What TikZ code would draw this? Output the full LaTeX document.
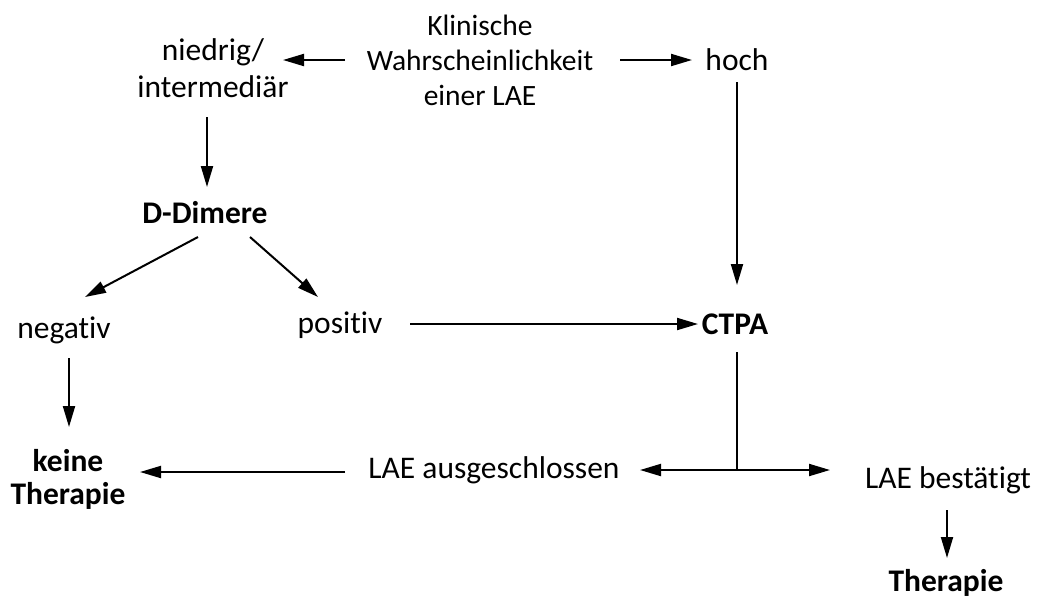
\documentclass[tikz,border=0pt]{standalone}
\usepackage{fontspec}
\setmainfont[Ligatures=NoCommon]{Carlito}
\usetikzlibrary{arrows.meta}
\begin{document}
\begin{tikzpicture}[x=1pt,y=-1pt,
  lbl/.style={font=\fontsize{31.5}{37}\selectfont, align=center, inner sep=0pt},
  small/.style={font=\fontsize{29.5}{35}\selectfont, align=center, inner sep=0pt},
  bl/.style={font=\fontsize{31.5}{33}\selectfont\bfseries, align=center, inner sep=0pt},
  arr/.style={line width=2pt, -{Triangle[length=21pt,width=12pt]}},
  ln/.style={line width=2pt}]
\useasboundingbox (0,0) rectangle (1038,598);
\node[small] (klin) at (480,60) {Klinische\\Wahrscheinlichkeit\\einer LAE};
\node[lbl] (nied) at (213,68) {niedrig/\\intermediär};
\node[lbl] (hoch) at (737,60) {hoch};
\node[bl] (dd) at (205,213) {D-Dimere};
\node[lbl] (neg) at (64,330) {negativ};
\node[lbl] (pos) at (340,325) {positiv};
\node[bl] (ctpa) at (735,324) {CTPA};
\node[bl] (kt) at (68,479) {keine\\Therapie};
\node[lbl] (aus) at (494,470) {LAE ausgeschlossen};
\node[lbl] (best) at (948,480) {LAE bestätigt};
\node[bl] (ther) at (946,583) {Therapie};
\coordinate (j) at (737,470);

\draw[arr] (345,60) -- (283,60);
\draw[arr] (620,60) -- (692,60);
\draw[arr] (737,82) -- (737,285);
\draw[arr] (207,117) -- (207,187);
\draw[arr] (198,237) -- (85,297);
\draw[arr] (250,237) -- (318,297);
\draw[arr] (410,324) -- (698,324);
\draw[arr] (69,358) -- (69,427);
\draw[arr] (345,472) -- (140,472);
\draw[ln] (737,352) -- (j);
\draw[arr] (j) -- (640,470);
\draw[arr] (j) -- (830,470);
\draw[arr] (947,510) -- (947,558);
\end{tikzpicture}
\end{document}
